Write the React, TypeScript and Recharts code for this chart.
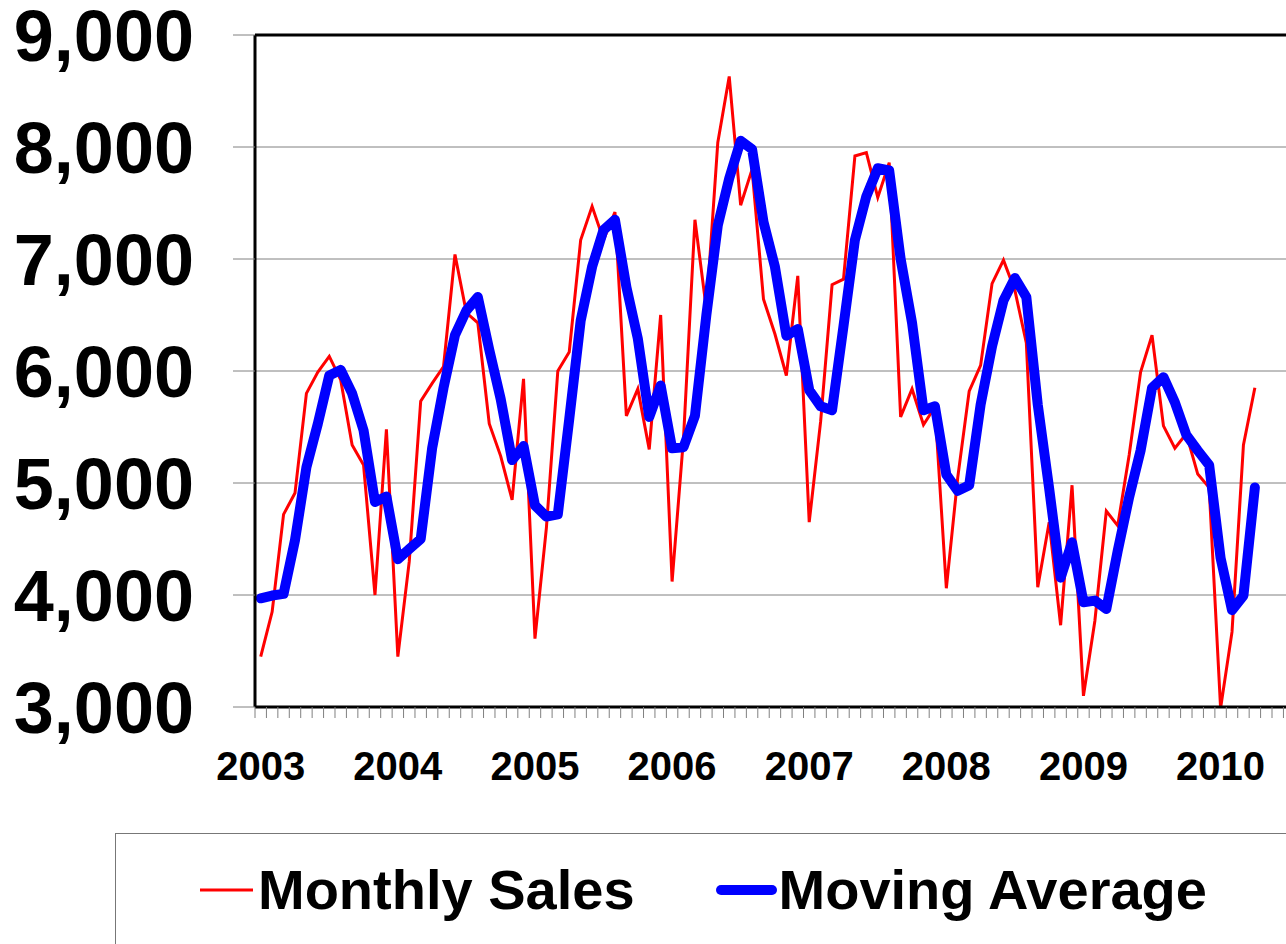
import {
  CartesianGrid,
  Legend,
  Line,
  LineChart,
  ReferenceLine,
  XAxis,
  YAxis,
} from "recharts";

const yearLabels = ["2003", "2004", "2005", "2006", "2007", "2008", "2009", "2010"];

// Jan 2003 .. Apr 2010
const monthlySales = [
  3450, 3850, 4720, 4910, 5800, 5990, 6130, 5920, 5340, 5160, 4000, 5480,
  3450, 4300, 5730, 5890, 6040, 7040, 6520, 6430, 5530, 5240, 4850, 5930,
  3610, 4600, 6000, 6170, 7170, 7470, 7170, 7420, 5600, 5840, 5300, 6500,
  4120, 5400, 7350, 6550, 8040, 8630, 7480, 7800, 6640, 6330, 5960, 6850,
  4650, 5550, 6770, 6820, 7920, 7950, 7550, 7860, 5590, 5840, 5520, 5680,
  4060, 5050, 5820, 6050, 6780, 6990, 6720, 6250, 4070, 4650, 3730, 4980,
  3100, 3770, 4750, 4620, 5250, 5990, 6320, 5510, 5310, 5440, 5080, 4960,
  2990, 3670, 5340, 5850,
];

const movingAverage = [
  3970, 3995, 4010, 4490, 5140, 5530, 5960, 6010, 5800, 5470, 4830, 4880,
  4320, 4410, 4500, 5310, 5850, 6320, 6540, 6660, 6190, 5750, 5205, 5330,
  4800, 4700, 4720, 5570, 6450, 6930, 7260, 7350, 6750, 6290, 5590, 5870,
  5310, 5320, 5600, 6500, 7300, 7720, 8055, 7980, 7330, 6930, 6315, 6375,
  5830, 5685, 5650, 6400, 7170, 7560, 7810, 7790, 7000, 6430, 5650, 5685,
  5075, 4930, 4980, 5700, 6220, 6630, 6830, 6660, 5700, 4950, 4155, 4470,
  3935, 3950, 3875, 4395, 4875, 5290, 5850, 5945, 5720, 5430, 5290, 5160,
  4330, 3865, 3995, 4960,
];

const yTicks = [3000, 4000, 5000, 6000, 7000, 8000, 9000];

// the axis runs Jan 2003 .. Dec 2010
const axisMonths = yearLabels.length * 12;

const data = monthlySales.map((sales, m) => ({
  m,
  sales,
  avg: movingAverage[m],
}));

const monthBoundaries = Array.from({ length: axisMonths + 1 }, (_, i) => i - 0.5);
const yearTicks = yearLabels.map((_, k) => k * 12);

const FONT = "'Liberation Sans', Arial, sans-serif";

function LegendBox({ payload }: any) {
  return (
    <div
      style={{
        boxSizing: "border-box",
        height: 200,
        border: "1px solid #777",
        paddingLeft: 84,
        paddingTop: 28,
        display: "flex",
        alignItems: "flex-start",
        gap: 81,
        fontFamily: FONT,
      }}
    >
      {(payload ?? []).map((entry: any) => {
        const thick = entry.dataKey === "avg";
        return (
          <div
            key={entry.value}
            style={{
              display: "flex",
              alignItems: "center",
              gap: thick ? 2 : 5,
              fontSize: 56,
              lineHeight: "56px",
              height: 56,
              fontWeight: 700,
              color: "#000",
              whiteSpace: "nowrap",
            }}
          >
            <svg width={thick ? 61 : 53} height={12}>
              <line
                x1={thick ? 5 : 0}
                x2={thick ? 56 : 53}
                y1={6}
                y2={6}
                stroke={entry.color}
                strokeWidth={thick ? 10 : 3}
                strokeLinecap={thick ? "round" : "butt"}
              />
            </svg>
            <span>{entry.value}</span>
          </div>
        );
      })}
    </div>
  );
}

export default function App() {
  return (
    <div
      style={{
        position: "absolute",
        left: 0,
        top: 0,
        width: 1286,
        height: 944,
        overflow: "hidden",
        background: "#fff",
        fontFamily: FONT,
      }}
    >
      <LineChart
        width={1360}
        height={944}
        data={data}
        margin={{ top: 35, right: 8, bottom: 176, left: 0 }}
      >
        <CartesianGrid stroke="#808080" vertical={false} />
        <XAxis
          xAxisId="mark"
          dataKey="m"
          type="number"
          domain={[-0.5, axisMonths - 0.5]}
          ticks={monthBoundaries}
          interval={0}
          tickFormatter={() => ""}
          tickSize={11}
          tickLine={{ stroke: "#808080" }}
          axisLine={{ stroke: "#000", strokeWidth: 3 }}
          height={1}
        />
        <XAxis
          xAxisId="year"
          dataKey="m"
          type="number"
          domain={[-0.5, axisMonths - 0.5]}
          ticks={yearTicks}
          interval={0}
          tickFormatter={(v) => yearLabels[Math.round(v / 12)]}
          tickSize={0}
          tickMargin={44}
          tickLine={false}
          axisLine={false}
          height={60}
          tick={{ fontSize: 40, fontWeight: 700, fill: "#000", fontFamily: FONT }}
        />
        <YAxis
          type="number"
          domain={[3000, 9000]}
          ticks={yTicks}
          allowDataOverflow
          interval={0}
          width={255}
          tickSize={22}
          tickMargin={39}
          tickLine={{ stroke: "#808080" }}
          axisLine={{ stroke: "#000", strokeWidth: 3 }}
          tickFormatter={(v) => Number(v).toLocaleString("en-US")}
          tick={{ fontSize: 72, fontWeight: 700, fill: "#000", fontFamily: FONT }}
        />
        <ReferenceLine xAxisId="mark" y={9000} stroke="#000" strokeWidth={3} />
        <Line
          xAxisId="mark"
          type="linear"
          dataKey="sales"
          name="Monthly Sales"
          stroke="#ff0000"
          strokeWidth={3}
          dot={false}
          activeDot={false}
          isAnimationActive={false}
        />
        <Line
          xAxisId="mark"
          type="linear"
          dataKey="avg"
          name="Moving Average"
          stroke="#0000ff"
          strokeWidth={10}
          strokeLinejoin="round"
          strokeLinecap="round"
          dot={false}
          activeDot={false}
          isAnimationActive={false}
        />
        <Legend
          layout="horizontal"
          verticalAlign="middle"
          align="center"
          wrapperStyle={{ left: 115, top: 833, width: 1300, height: 200 }}
          content={<LegendBox />}
        />
      </LineChart>
    </div>
  );
}
